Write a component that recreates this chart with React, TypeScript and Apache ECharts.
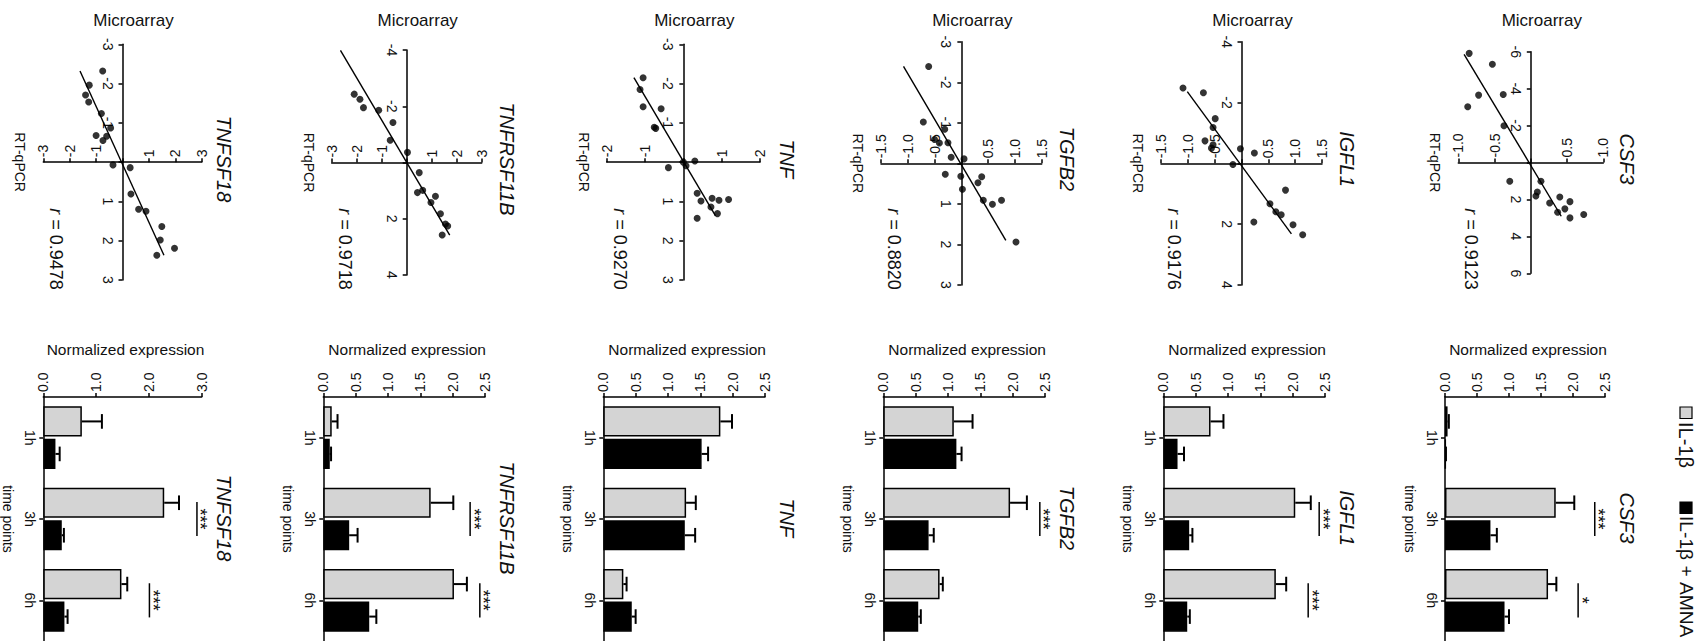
import React, { useEffect, useRef } from "react";
import * as echarts from "echarts";

// ---------- data ----------
const genes = ["TNFSF18", "TNFRSF11B", "TNF", "TGFB2", "IGFL1", "CSF3"];
const rValues = ["0.9478", "0.9718", "0.9270", "0.8820", "0.9176", "0.9123"];
const timePoints = ["1h", "3h", "6h"];
const seriesNames = ["IL-1β", "IL-1β + AMNA"];

// scatter: [RT-qPCR, Microarray]
const tnfsf18Points = [[-0.75, -2.32], [-1.26, -1.96], [-1.40, -1.71], [-1.28, -1.53], [-0.80, -1.24], [-0.45, -0.87], [-1.00, -0.68], [-0.60, -0.66], [-0.74, -0.55], [-0.36, 0.07], [0.29, 0.14], [0.32, 0.81], [0.61, 1.20], [0.89, 1.25], [1.49, 1.64], [1.43, 1.98], [1.97, 2.19], [1.30, 2.37]];
const tnfrsf11bPoints = [[-2.10, -4.01], [-2.10, -2.43], [-1.87, -2.25], [-1.73, -1.95], [-1.12, -1.86], [-0.55, -1.42], [-0.66, -0.79], [0.03, -0.36], [0.50, 0.36], [0.43, 1.07], [0.64, 0.99], [1.15, 1.20], [0.97, 1.42], [1.35, 1.82], [1.55, 2.19], [1.64, 2.26], [1.42, 2.58]];
const tnfPoints = [[-1.05, -2.15], [-1.13, -1.85], [-1.05, -1.41], [-0.58, -1.36], [-0.76, -0.89], [-0.72, -0.86], [-0.39, 0.14], [0.0, 0.0], [0.07, 0.09], [0.30, -0.03], [0.36, 0.79], [0.46, 0.99], [0.75, 0.92], [0.93, 0.97], [1.18, 0.95], [0.72, 1.14], [0.89, 1.31], [0.36, 1.43]];
const tgfb2Points = [[-0.61, -2.39], [-0.71, -1.02], [-0.31, -0.84], [-0.50, -0.59], [-0.41, -0.50], [-0.25, -0.51], [-0.19, -0.15], [0.05, -0.11], [-0.30, 0.27], [-0.01, 0.32], [0.02, 0.64], [0.38, 0.33], [0.31, 0.48], [0.41, 0.91], [0.58, 1.01], [0.75, 0.91], [1.02, 1.94]];
const igfl1Points = [[-1.09, -2.48], [-0.71, -2.32], [-0.49, -1.47], [-0.53, -1.18], [-0.68, -0.74], [-0.53, -0.61], [-0.56, -0.50], [-0.02, -0.48], [0.24, -0.34], [-0.16, 0.04], [0.82, 0.88], [0.53, 1.33], [0.64, 1.59], [0.74, 1.69], [0.23, 1.93], [0.96, 2.02], [1.14, 2.35]];
const csf3Points = [[-0.85, -5.91], [-0.53, -5.32], [-0.72, -3.65], [-0.38, -3.68], [-0.87, -3.02], [-0.37, -1.99], [-0.29, 1.02], [0.14, 1.02], [0.09, 1.60], [0.07, 1.81], [0.26, 2.19], [0.40, 1.87], [0.54, 2.12], [0.47, 2.51], [0.37, 2.69], [0.54, 3.00], [0.73, 2.82]];

const tnfsf18Fit = [[-1.61, -2.32], [1.57, 2.37]];
const tnfrsf11bFit = [[-2.65, -3.99], [1.72, 2.58]];
const tnfFit = [[-1.29, -2.15], [0.84, 1.37]];
const tgfb2Fit = [[-1.08, -2.39], [0.83, 1.90]];
const igfl1Fit = [[-1.01, -2.36], [0.93, 2.32]];
const csf3Fit = [[-0.92, -5.86], [0.42, 2.91]];

// scatter axis ranges
const rtMax = [3, 3, 2, 1.5, 1.5, 1.0];
const rtStep = [1, 1, 1, 0.5, 0.5, 0.5];
const maMax = [3, 4, 3, 3, 4, 6];
const maStep = [1, 2, 1, 1, 2, 2];

// bars (1h, 3h, 6h)
const tnfsf18IL1b = [0.73, 2.29, 1.48];
const tnfsf18IL1bErr = [0.38, 0.28, 0.11];
const tnfsf18AMNA = [0.23, 0.35, 0.40];
const tnfsf18AMNAErr = [0.08, 0.04, 0.06];
const tnfrsf11bIL1b = [0.13, 1.66, 2.02];
const tnfrsf11bIL1bErr = [0.09, 0.35, 0.20];
const tnfrsf11bAMNA = [0.10, 0.40, 0.71];
const tnfrsf11bAMNAErr = [0.02, 0.13, 0.11];
const tnfIL1b = [1.81, 1.28, 0.31];
const tnfIL1bErr = [0.18, 0.15, 0.05];
const tnfAMNA = [1.52, 1.26, 0.44];
const tnfAMNAErr = [0.10, 0.16, 0.06];
const tgfb2IL1b = [1.09, 1.96, 0.87];
const tgfb2IL1bErr = [0.29, 0.26, 0.05];
const tgfb2AMNA = [1.13, 0.70, 0.54];
const tgfb2AMNAErr = [0.08, 0.08, 0.04];
const igfl1IL1b = [0.73, 2.04, 1.74];
const igfl1IL1bErr = [0.20, 0.24, 0.16];
const igfl1AMNA = [0.22, 0.40, 0.37];
const igfl1AMNAErr = [0.10, 0.05, 0.04];
const csf3IL1b = [0.04, 1.73, 1.61];
const csf3IL1bErr = [0.02, 0.29, 0.13];
const csf3AMNA = [0.01, 0.71, 0.93];
const csf3AMNAErr = [0.005, 0.10, 0.07];

const barMax = [3.0, 2.5, 2.5, 2.5, 2.5, 2.5];
const barStep = [1.0, 0.5, 0.5, 0.5, 0.5, 0.5];

// significance: [value, time index] and marks
const tnfsf18Sig = [[2.91, 1], [2.01, 2]];
const tnfsf18SigMarks = ["***", "***"];
const tnfrsf11bSig = [[2.27, 1], [2.42, 2]];
const tnfrsf11bSigMarks = ["***", "***"];
const tnfSig: number[][] = [];
const tnfSigMarks: string[] = [];
const tgfb2Sig = [[2.42, 1]];
const tgfb2SigMarks = ["***"];
const igfl1Sig = [[2.41, 1], [2.24, 2]];
const igfl1SigMarks = ["***", "***"];
const csf3Sig = [[2.34, 1], [2.08, 2]];
const csf3SigMarks = ["***", "*"];

const points = [tnfsf18Points, tnfrsf11bPoints, tnfPoints, tgfb2Points, igfl1Points, csf3Points];
const fits = [tnfsf18Fit, tnfrsf11bFit, tnfFit, tgfb2Fit, igfl1Fit, csf3Fit];
const il1b = [tnfsf18IL1b, tnfrsf11bIL1b, tnfIL1b, tgfb2IL1b, igfl1IL1b, csf3IL1b];
const il1bErr = [tnfsf18IL1bErr, tnfrsf11bIL1bErr, tnfIL1bErr, tgfb2IL1bErr, igfl1IL1bErr, csf3IL1bErr];
const amna = [tnfsf18AMNA, tnfrsf11bAMNA, tnfAMNA, tgfb2AMNA, igfl1AMNA, csf3AMNA];
const amnaErr = [tnfsf18AMNAErr, tnfrsf11bAMNAErr, tnfAMNAErr, tgfb2AMNAErr, igfl1AMNAErr, csf3AMNAErr];
const sigs = [tnfsf18Sig, tnfrsf11bSig, tnfSig, tgfb2Sig, igfl1Sig, csf3Sig];
const sigMarks = [tnfsf18SigMarks, tnfrsf11bSigMarks, tnfSigMarks, tgfb2SigMarks, igfl1SigMarks, csf3SigMarks];

// ---------- layout (pixels) ----------
const scatterRects = [
  [43.3, 44.3, 158.4, 235.7],
  [331.7, 50, 150, 225],
  [606.7, 44.3, 153.3, 235.7],
  [881, 41.7, 160.7, 243.3],
  [1161, 41.7, 161, 243.3],
  [1458.3, 51.7, 145, 221.6],
];
const barRects = [
  [43.3, 397, 158.4, 245.4],
  [323.3, 397, 161.7, 245.4],
  [603.3, 397, 161.7, 245.4],
  [883.3, 397, 161.7, 245.4],
  [1163.3, 397, 161.7, 245.4],
  [1445, 397, 160, 245.4],
];

const FONT = "'Liberation Sans', Arial, Helvetica, sans-serif";
const INK = "#111111";
const LIGHT = "#d4d4d4";
const BAR_SHIFT = 0.54 * 0.37;

function rotText(x: number, y: number, text: string, size: number, opts: any = {}) {
  const align = opts.align || "center";
  return {
    type: "text",
    x,
    y,
    rotation: -Math.PI / 2,
    silent: true,
    style: {
      text,
      font: `${opts.italic ? "italic " : ""}${size}px ${FONT}`,
      fill: INK,
      textAlign: align,
      align,
      textVerticalAlign: "middle",
      verticalAlign: "middle",
      rich: opts.rich,
    },
  };
}

function flatText(x: number, y: number, text: string, size: number) {
  return {
    type: "text",
    x,
    y,
    silent: true,
    style: {
      text,
      font: `${size}px ${FONT}`,
      fill: INK,
      textAlign: "center",
      align: "center",
      textVerticalAlign: "middle",
      verticalAlign: "middle",
    },
  };
}

function makeOption() {
  const grid: any[] = [];
  const xAxis: any[] = [];
  const yAxis: any[] = [];
  const series: any[] = [];
  const elements: any[] = [];

  const lineStyle = { color: "#000", width: 1.5 };
  const tick = { show: true, length: 4, lineStyle };
  const labelBase = {
    rotate: -90,
    fontSize: 14,
    color: INK,
    fontFamily: FONT,
    showMinLabel: true,
    showMaxLabel: true,
  };

  genes.forEach((gene, i) => {
    // ----- scatter panel -----
    const sr = scatterRects[i];
    const si = grid.length;
    grid.push({ left: sr[0], top: sr[1], width: sr[2], height: sr[3] });
    xAxis.push({
      type: "value",
      gridIndex: si,
      min: -rtMax[i],
      max: rtMax[i],
      interval: rtStep[i],
      position: "top",
      offset: -sr[3] / 2,
      axisLine: { show: true, onZero: false, lineStyle },
      axisTick: tick,
      splitLine: { show: false },
      axisLabel: {
        ...labelBase,
        margin: 5,
        formatter: (v: number) =>
          Math.abs(v) < 1e-9 ? "" : rtStep[i] < 1 ? v.toFixed(1) : String(Math.round(v)),
      },
    });
    yAxis.push({
      type: "value",
      gridIndex: si,
      inverse: true,
      min: -maMax[i],
      max: maMax[i],
      interval: maStep[i],
      position: "left",
      offset: -sr[2] / 2,
      axisLine: { show: true, onZero: false, lineStyle },
      axisTick: tick,
      splitLine: { show: false },
      axisLabel: {
        ...labelBase,
        margin: 8,
        formatter: (v: number) => (Math.abs(v) < 1e-9 ? "" : String(Math.round(v))),
      },
    });
    series.push({
      type: "line",
      xAxisIndex: si,
      yAxisIndex: si,
      data: fits[i],
      symbol: "none",
      lineStyle: { color: "#000", width: 1.4 },
      z: 2,
    });
    series.push({
      type: "scatter",
      xAxisIndex: si,
      yAxisIndex: si,
      data: points[i],
      symbolSize: 7,
      itemStyle: { color: "#000" },
      z: 3,
    });

    // ----- bar panel -----
    const br = barRects[i];
    const bi = grid.length;
    grid.push({ left: br[0], top: br[1], width: br[2], height: br[3] });
    xAxis.push({
      type: "value",
      gridIndex: bi,
      min: 0,
      max: barMax[i],
      interval: barStep[i],
      position: "top",
      axisLine: { show: true, onZero: false, lineStyle },
      axisTick: tick,
      splitLine: { show: false },
      axisLabel: { ...labelBase, margin: 5, formatter: (v: number) => v.toFixed(1) },
    });
    yAxis.push({
      type: "category",
      gridIndex: bi,
      data: timePoints,
      inverse: true,
      position: "left",
      axisLine: { show: true, onZero: false, lineStyle },
      axisTick: { ...tick, alignWithLabel: true },
      axisLabel: { ...labelBase, margin: 6 },
    });
    series.push({
      type: "bar",
      name: seriesNames[0],
      xAxisIndex: bi,
      yAxisIndex: bi,
      data: il1b[i],
      barWidth: "37%",
      barGap: "8%",
      itemStyle: { color: LIGHT, borderColor: "#000", borderWidth: 1.5 },
    });
    series.push({
      type: "bar",
      name: seriesNames[1],
      xAxisIndex: bi,
      yAxisIndex: bi,
      data: amna[i],
      barWidth: "37%",
      barGap: "8%",
      itemStyle: { color: "#000", borderColor: "#000", borderWidth: 1.5 },
    });
    const errData: number[][] = [];
    timePoints.forEach((_, j) => {
      errData.push([il1b[i][j], j, il1bErr[i][j], 0]);
      errData.push([amna[i][j], j, amnaErr[i][j], 1]);
    });
    series.push({
      type: "custom",
      xAxisIndex: bi,
      yAxisIndex: bi,
      data: errData,
      z: 4,
      silent: true,
      renderItem: (params: any, api: any) => {
        const v = api.value(0);
        const c = api.value(1);
        const e = api.value(2);
        const s = api.value(3);
        const p0 = api.coord([v, c]);
        const p1 = api.coord([v + e, c]);
        const band = Math.abs(api.size([0, 1])[1]);
        const y = p0[1] + (s === 0 ? -1 : 1) * band * BAR_SHIFT;
        const cap = band * 0.09;
        return {
          type: "group",
          children: [
            { type: "line", shape: { x1: p0[0], y1: y, x2: p1[0], y2: y }, style: { stroke: "#000", lineWidth: 2 } },
            { type: "line", shape: { x1: p1[0], y1: y - cap, x2: p1[0], y2: y + cap }, style: { stroke: "#000", lineWidth: 2 } },
          ],
        };
      },
    });
    if (sigs[i].length) {
      series.push({
        type: "custom",
        xAxisIndex: bi,
        yAxisIndex: bi,
        data: sigs[i],
        z: 4,
        silent: true,
        clip: false,
        renderItem: (params: any, api: any) => {
          const p = api.coord([api.value(0), api.value(1)]);
          const band = Math.abs(api.size([0, 1])[1]);
          const half = band * 0.21;
          return {
            type: "group",
            children: [
              { type: "line", shape: { x1: p[0], y1: p[1] - half, x2: p[0], y2: p[1] + half }, style: { stroke: "#000", lineWidth: 1.5 } },
              {
                type: "text",
                x: p[0] + 3.5,
                y: p[1],
                rotation: -Math.PI / 2,
                style: {
                  text: sigMarks[i][params.dataIndex],
                  font: `18px ${FONT}`,
                  fill: INK,
                  textAlign: "center",
                  align: "center",
                  textVerticalAlign: "middle",
                  verticalAlign: "middle",
                },
              },
            ],
          };
        },
      });
    }

    // ----- texts -----
    const titleX = br[0] + br[2] + 22;
    elements.push(rotText(titleX, 159, gene, 20, { italic: true }));
    elements.push(rotText(titleX, 518, gene, 20, { italic: true }));
    elements.push(flatText(sr[0] + sr[2] / 2 + 11, 20, "Microarray", 17));
    elements.push(rotText(sr[0] - 23, sr[1] + sr[3] / 2, "RT-qPCR", 14));
    elements.push(
      rotText(sr[0] + 13, 249, `{i|r} = ${rValues[i]}`, 18, {
        rich: { i: { fontStyle: "italic", fontSize: 18, fontFamily: FONT, fill: INK } },
      })
    );
    elements.push(flatText(br[0] + br[2] / 2 + 3, 349, "Normalized expression", 15.5));
    elements.push(rotText(br[0] - 35, 519, "time points", 14));
  });

  // legend
  elements.push({
    type: "rect",
    shape: { x: 1680, y: 407, width: 12, height: 11.5 },
    style: { fill: LIGHT, stroke: "#000", lineWidth: 1.2 },
    silent: true,
  });
  elements.push(rotText(1686, 422, seriesNames[0], 20, { align: "left" }));
  elements.push({
    type: "rect",
    shape: { x: 1680, y: 502, width: 12, height: 11.5 },
    style: { fill: "#000", stroke: "#000", lineWidth: 1.2 },
    silent: true,
  });
  elements.push(rotText(1686, 516, seriesNames[1], 19.2, { align: "left" }));

  return {
    animation: false,
    backgroundColor: "#ffffff",
    grid,
    xAxis,
    yAxis,
    series,
    graphic: { elements },
  };
}

export default function App() {
  const ref = useRef<HTMLDivElement>(null);
  useEffect(() => {
    if (!ref.current) return;
    const chart = echarts.init(ref.current, null, { renderer: "svg" });
    chart.setOption(makeOption() as any);
    return () => chart.dispose();
  }, []);
  return (
    <div
      ref={ref}
      style={{ position: "absolute", left: 0, top: 0, width: 1707, height: 641, background: "#fff" }}
    />
  );
}
